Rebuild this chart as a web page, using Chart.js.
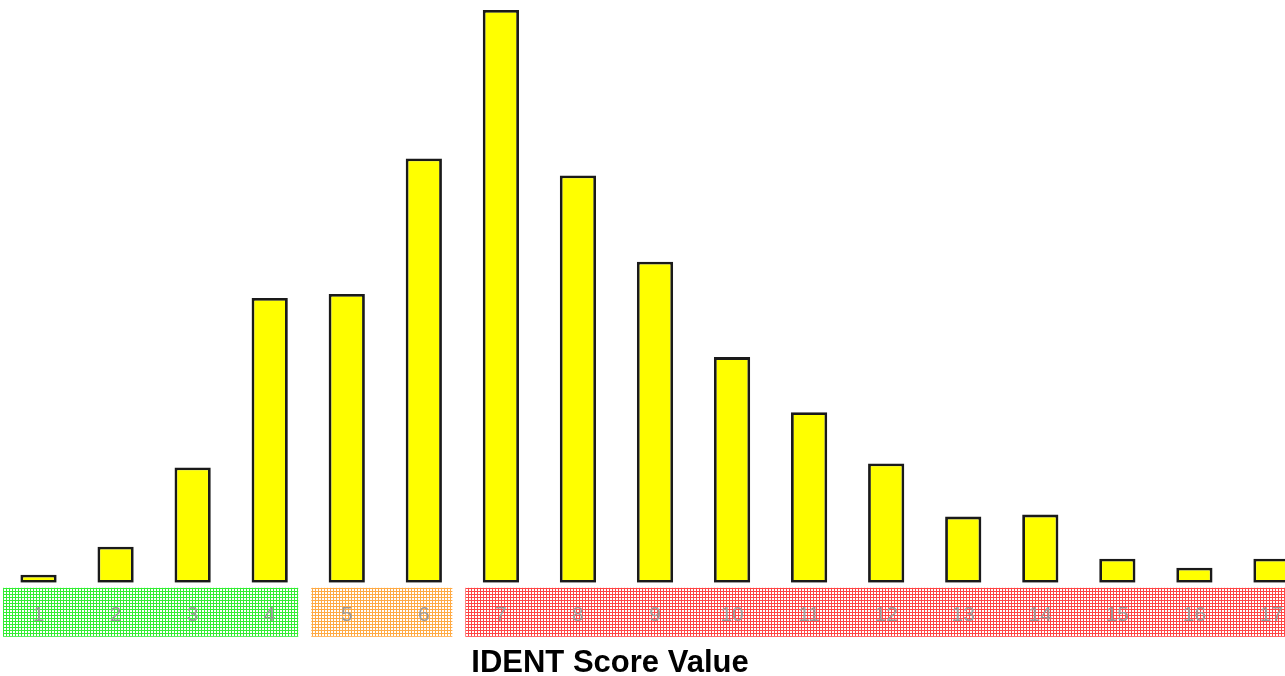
<!DOCTYPE html>
<html>
<head>
<meta charset="utf-8">
<script src="https://cdn.jsdelivr.net/npm/chart.js@4/dist/chart.umd.min.js"></script>
<style>
  html, body { margin: 0; padding: 0; background: #fff; overflow: hidden; }
  #wrap { position: relative; width: 1310px; height: 676px; }
</style>
</head>
<body>
<div id="wrap"><canvas id="myChart"></canvas></div>
<script>
const scores = ['1','2','3','4','5','6','7','8','9','10','11','12','13','14','15','16','17'];
const counts = [8, 36, 115, 284, 288, 423, 571, 406, 320, 225, 170, 119, 66, 68, 24, 15, 24];
// colour bands behind the labels: [first index, last index, colour]
const bands = [
  [0, 3, '#33ee33'],
  [4, 5, '#ffaa44'],
  [6, 16, '#ff4444']
];
const xTitle = 'IDENT Score Value';

function makePattern(ctx, color) {
  const tile = document.createElement('canvas');
  tile.width = 3;
  tile.height = 3;
  const t = tile.getContext('2d');
  t.fillStyle = '#ffffff';
  t.fillRect(0, 0, 3, 3);
  t.fillStyle = color;
  t.fillRect(0, 0, 3, 1);
  t.fillRect(0, 0, 1, 3);
  return ctx.createPattern(tile, 'repeat');
}

// draw the patterned bands under the tick labels
const bandPlugin = {
  id: 'bands',
  beforeDraw(chart) {
    const ctx = chart.ctx;
    const x = chart.scales.x;
    const half = (x.getPixelForValue(1) - x.getPixelForValue(0)) / 2;
    const top = chart.chartArea.bottom + 5;
    const h = 49;
    ctx.save();
    bands.forEach(b => {
      const left = x.getPixelForValue(b[0]) - half + 3;
      const right = x.getPixelForValue(b[1]) + half - 10;
      ctx.fillStyle = makePattern(ctx, b[2]);
      ctx.fillRect(left, top, right - left, h);
    });
    ctx.restore();
  },
  afterDraw(chart) {
    const ctx = chart.ctx;
    ctx.save();
    ctx.font = 'bold 31px "Liberation Sans", Arial, sans-serif';
    ctx.fillStyle = '#000';
    ctx.textAlign = 'center';
    ctx.textBaseline = 'middle';
    ctx.fillText(xTitle, 610, 663);
    ctx.restore();
  }
};

const ctx = document.getElementById('myChart').getContext('2d');
const myChart = new Chart(ctx, {
  type: 'bar',
  data: {
    labels: scores,
    datasets: [{
      data: counts,
      backgroundColor: '#ffff00',
      borderColor: '#1a1a1a',
      borderWidth: 2.8,
      borderSkipped: false,
      barPercentage: 0.47,
      categoryPercentage: 1
    }]
  },
  options: {
    responsive: true,
    maintainAspectRatio: false,
    animation: false,
    layout: { padding: { top: 10, left: 0, right: 0, bottom: 28 } },
    plugins: {
      legend: { display: false },
      tooltip: { enabled: false }
    },
    scales: {
      x: {
        grid: { display: false, drawTicks: false },
        border: { display: false },
        ticks: {
          color: '#9a9a9a',
          padding: 20,
          font: { family: '"Liberation Sans", Arial, sans-serif', size: 21 },
          maxRotation: 0,
          autoSkip: false
        }
      },
      y: {
        display: false,
        min: 0,
        max: 571
      }
    }
  },
  plugins: [bandPlugin]
});
</script>
</body>
</html>
